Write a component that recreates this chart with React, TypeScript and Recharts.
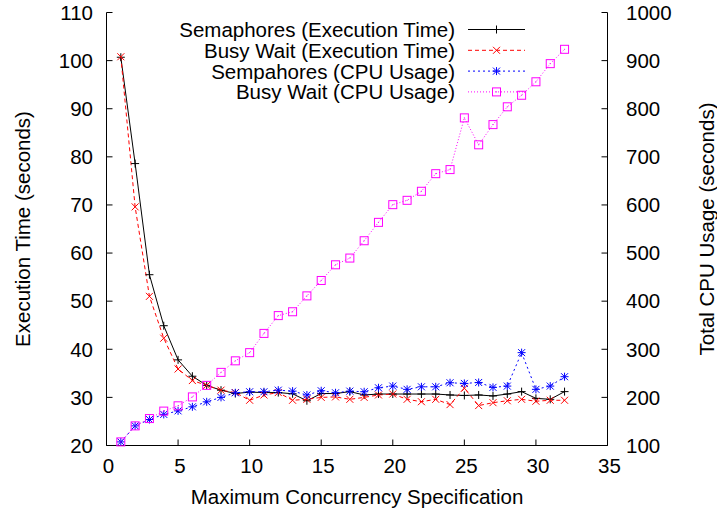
import React from "react";
import { LineChart, Line, XAxis, YAxis, Legend } from "recharts";

const FONT = "'Liberation Sans', Arial, Helvetica, sans-serif";

// concurrency level (x)
const concurrency = [
  1, 2, 3, 4, 5, 6, 7, 8, 9, 10, 11, 12, 13, 14, 15, 16, 17, 18, 19, 20, 21,
  22, 23, 24, 25, 26, 27, 28, 29, 30, 31, 32,
];

// execution time, left axis (seconds)
const semExecTime = [
  100.7, 78.6, 55.5, 44.9, 37.8, 34.4, 32.5, 31.5, 30.8, 31.1, 31.0, 31.0,
  30.75, 29.3, 30.8, 30.8, 31.2, 30.5, 30.7, 30.7, 30.7, 30.7, 30.7, 30.5,
  30.4, 30.5, 30.3, 30.7, 31.2, 29.8, 29.6, 31.2,
];
const busyExecTime = [
  100.8, 69.6, 51.0, 42.3, 35.9, 33.5, 32.5, 31.5, 31.0, 29.4, 30.5, 31.0,
  29.4, 29.6, 30.0, 30.1, 29.6, 30.0, 30.5, 30.7, 29.6, 29.1, 29.6, 28.5,
  31.9, 28.3, 28.9, 29.3, 29.6, 29.2, 29.4, 29.4,
];

// total cpu usage, right axis (seconds)
const semCpu = [
  107.5, 140.8, 154, 164.6, 172, 180.4, 190.8, 200, 209.6, 211.7, 211.7, 215,
  213, 205, 213.8, 209.6, 213, 211.7, 220, 223.5, 216.7, 222, 222, 230.4, 229,
  231, 220.8, 223.5, 293, 216.7, 223.5, 243,
];
const busyCpu = [
  107.5, 140.8, 156, 171.5, 182.5, 201, 225, 252, 276, 293, 333, 370, 378, 411,
  443, 475.6, 489.6, 525.6, 563.8, 600.6, 609.6, 628.4, 665, 673.5, 781, 725,
  767, 804, 828, 856, 893.7, 923.5,
];

const xTicks = [0, 5, 10, 15, 20, 25, 30, 35];
const leftTicks = [20, 30, 40, 50, 60, 70, 80, 90, 100, 110];
const rightTicks = [100, 200, 300, 400, 500, 600, 700, 800, 900, 1000];

const data = concurrency.map((x, i) => ({
  x,
  semExec: semExecTime[i],
  busyExec: busyExecTime[i],
  semCpu: semCpu[i],
  busyCpu: busyCpu[i],
}));

type MarkerKind = "plus" | "cross" | "star" | "box";

function Marker({ kind, cx, cy, color }: { kind: MarkerKind; cx: number; cy: number; color: string }) {
  if (cx == null || cy == null) return null;
  const s = 4;
  const d = 3.5;
  const plus = (
    <>
      <line x1={cx - s} x2={cx + s} y1={cy} y2={cy} />
      <line x1={cx} x2={cx} y1={cy - s} y2={cy + s} />
    </>
  );
  const cross = (
    <>
      <line x1={cx - d} x2={cx + d} y1={cy - d} y2={cy + d} />
      <line x1={cx - d} x2={cx + d} y1={cy + d} y2={cy - d} />
    </>
  );
  if (kind === "box") {
    return (
      <g>
        <rect x={cx - 4} y={cy - 4} width={8} height={8} fill="none" stroke={color} strokeWidth={1} />
        <rect x={cx - 0.5} y={cy - 0.5} width={1} height={1} fill={color} />
      </g>
    );
  }
  return (
    <g stroke={color} strokeWidth={1} fill="none">
      {kind !== "cross" && plus}
      {kind !== "plus" && cross}
    </g>
  );
}

const series = [
  { key: "semExec", axis: "left", name: "Semaphores (Execution Time)", color: "#000000", dash: undefined, marker: "plus" as MarkerKind },
  { key: "busyExec", axis: "left", name: "Busy Wait (Execution Time)", color: "#ff0000", dash: "4 3", marker: "cross" as MarkerKind },
  { key: "semCpu", axis: "right", name: "Sempahores (CPU Usage)", color: "#0000ff", dash: "2 3", marker: "star" as MarkerKind },
  { key: "busyCpu", axis: "right", name: "Busy Wait (CPU Usage)", color: "#ff00ff", dash: "1 2", marker: "box" as MarkerKind },
];

const textStyle = { fontSize: 20.5, fontFamily: FONT, fill: "#000" };

function BottomTick(props: any) {
  const { x, y, payload } = props;
  return (
    <g>
      <line x1={x} x2={x} y1={y} y2={y - 6} stroke="#000" />
      <text x={x + 2} y={y + 27.5} textAnchor="middle" {...textStyle}>
        {payload.value}
      </text>
    </g>
  );
}

function TopTick(props: any) {
  const { x, y } = props;
  return <line x1={x} x2={x} y1={y} y2={y + 6} stroke="#000" />;
}

function LeftTick(props: any) {
  const { x, y, payload } = props;
  return (
    <g>
      <line x1={x} x2={x + 6} y1={y} y2={y} stroke="#000" />
      <text x={x - 13.5} y={y + 7.3} textAnchor="end" {...textStyle}>
        {payload.value}
      </text>
    </g>
  );
}

function RightTick(props: any) {
  const { x, y, payload } = props;
  return (
    <g>
      <line x1={x} x2={x - 6} y1={y} y2={y} stroke="#000" />
      <text x={x + 18.5} y={y + 7.3} textAnchor="start" {...textStyle}>
        {payload.value}
      </text>
    </g>
  );
}

function LegendBox() {
  return (
    <svg width={717} height={110} style={{ display: "block" }}>
      {series.map((s, i) => {
        const y = 29.5 + i * 20.8;
        return (
          <g key={s.key}>
            <text x={455} y={y + 7.5} textAnchor="end" {...textStyle}>
              {s.name}
            </text>
            <line x1={468} x2={525} y1={y} y2={y} stroke={s.color} strokeDasharray={s.dash} />
            <Marker kind={s.marker} cx={496.5} cy={y} color={s.color} />
          </g>
        );
      })}
    </svg>
  );
}

export default function App() {
  return (
    <div style={{ position: "absolute", left: 0, top: 0, background: "#fff" }}>
      <LineChart
        width={717}
        height={510}
        data={data}
        margin={{ top: 12.5, right: 0, bottom: 0, left: 0 }}
      >
        <XAxis
          xAxisId="bottom"
          dataKey="x"
          type="number"
          domain={[0, 35]}
          ticks={xTicks}
          interval={0}
          height={64.5}
          tickSize={0}
          tickMargin={0}
          tickLine={false}
          axisLine={{ stroke: "#000" }}
          tick={<BottomTick />}
          label={{
            content: (p: any) => (
              <text
                x={p.viewBox.x + p.viewBox.width / 2}
                y={504}
                textAnchor="middle"
                {...textStyle}
              >
                Maximum Concurrency Specification
              </text>
            ),
          }}
        />
        <XAxis
          xAxisId="top"
          orientation="top"
          dataKey="x"
          type="number"
          domain={[0, 35]}
          ticks={xTicks}
          interval={0}
          height={0}
          tickSize={0}
          tickMargin={0}
          tickLine={false}
          axisLine={{ stroke: "#000" }}
          tick={<TopTick />}
        />
        <YAxis
          yAxisId="left"
          type="number"
          domain={[20, 110]}
          ticks={leftTicks}
          interval={0}
          width={106.5}
          tickSize={0}
          tickMargin={0}
          tickLine={false}
          axisLine={{ stroke: "#000" }}
          tick={<LeftTick />}
          label={{
            content: (p: any) => {
              const cy = p.viewBox.y + p.viewBox.height / 2;
              return (
                <text
                  x={22}
                  y={cy}
                  transform={`rotate(-90 22 ${cy})`}
                  textAnchor="middle"
                  dominantBaseline="central"
                  {...textStyle}
                >
                  Execution Time (seconds)
                </text>
              );
            },
          }}
        />
        <YAxis
          yAxisId="right"
          orientation="right"
          type="number"
          domain={[100, 1000]}
          ticks={rightTicks}
          interval={0}
          width={109.5}
          tickSize={0}
          tickMargin={0}
          tickLine={false}
          axisLine={{ stroke: "#000" }}
          tick={<RightTick />}
          label={{
            content: (p: any) => {
              const cy = p.viewBox.y + p.viewBox.height / 2;
              return (
                <text
                  x={706}
                  y={cy}
                  transform={`rotate(-90 706 ${cy})`}
                  textAnchor="middle"
                  dominantBaseline="central"
                  {...textStyle}
                >
                  Total CPU Usage (seconds)
                </text>
              );
            },
          }}
        />
        <Legend
          layout="horizontal"
          verticalAlign="middle"
          align="center"
          content={() => <LegendBox />}
          wrapperStyle={{ position: "absolute", left: 0, top: 0, width: 717, height: 110, pointerEvents: "none" }}
        />
        {series.map((s) => (
          <Line
            key={s.key}
            xAxisId="bottom"
            yAxisId={s.axis}
            type="linear"
            dataKey={s.key}
            name={s.name}
            stroke={s.color}
            strokeWidth={1}
            strokeDasharray={s.dash}
            isAnimationActive={false}
            activeDot={false}
            dot={(p: any) => (
              <Marker key={`${s.key}-${p.index}`} kind={s.marker} cx={p.cx} cy={p.cy} color={s.color} />
            )}
          />
        ))}
      </LineChart>
    </div>
  );
}
